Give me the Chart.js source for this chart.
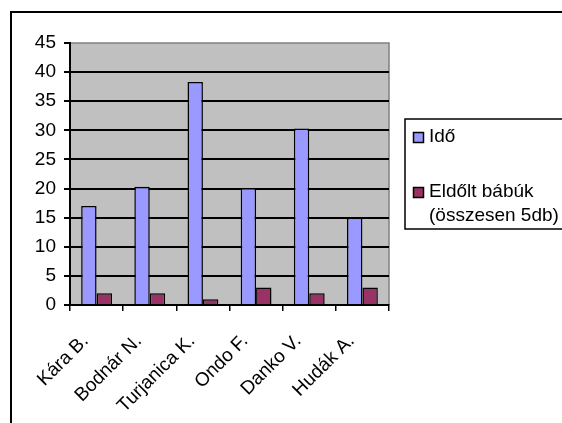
<!DOCTYPE html>
<html>
<head>
<meta charset="utf-8">
<script src="https://cdn.jsdelivr.net/npm/chart.js@4"></script>
<style>
  body { margin: 0; background: #fff; }
  #wrap { width: 562px; height: 423px; }
</style>
</head>
<body>
<div id="wrap"><canvas id="myChart" width="562" height="423"></canvas></div>
<script>
// adatok
var names = ["Kára B.", "Bodnár N.", "Turjanica K.", "Ondo F.", "Danko V.", "Hudák A."];
var ido = [17, 20.3, 38.3, 20.1, 30.3, 15];
var eldolt = [2, 2, 1, 3, 2, 3];
var seriesNames = ["Idő", "Eldőlt bábúk\n(összesen 5db)"];
var yTicks = [0, 5, 10, 15, 20, 25, 30, 35, 40, 45];

var FONT = "'Liberation Sans', Arial, sans-serif";
var FSIZE = 19;

// hatter, keret es jelmagyarazat rajzolasa
var excelLook = {
  id: "excelLook",
  beforeDraw: function (chart) {
    var c = chart.ctx, a = chart.chartArea;
    c.save();
    c.fillStyle = "#fff";
    c.fillRect(0, 0, chart.width, chart.height);
    c.strokeStyle = "#000";
    c.lineWidth = 2;
    c.strokeRect(11, 12, 700, 600);
    c.fillStyle = "#c0c0c0";
    c.fillRect(a.left, a.top, a.right - a.left, a.bottom - a.top);
    c.strokeStyle = "#808080";
    c.lineWidth = 1.5;
    c.beginPath();
    c.moveTo(a.left, a.top);
    c.lineTo(a.right, a.top);
    c.lineTo(a.right, a.bottom);
    c.stroke();
    c.restore();
  },
  afterDraw: function (chart) {
    var c = chart.ctx;
    c.save();
    c.strokeStyle = "#000";
    c.lineWidth = 1.5;
    c.strokeRect(405, 119, 300, 110);
    c.font = FSIZE + "px " + FONT;
    c.textBaseline = "middle";
    c.fillStyle = "#000";
    var ys = [137, 192];
    chart.data.datasets.forEach(function (ds, i) {
      var y = ys[i];
      c.fillStyle = ds.backgroundColor;
      c.fillRect(413, y - 5, 10, 10);
      c.strokeStyle = "#000";
      c.lineWidth = 1.5;
      c.strokeRect(413.5, y - 4.5, 10, 10);
      c.fillStyle = "#000";
      ds.label.split("\n").forEach(function (line, j) {
        c.fillText(line, 429, y + j * 24);
      });
    });
    c.restore();
  }
};

var ctx = document.getElementById("myChart").getContext("2d");
var myChart = new Chart(ctx, {
  type: "bar",
  data: {
    labels: names,
    datasets: [
      {
        label: seriesNames[0],
        data: ido,
        backgroundColor: "#9999ff",
        borderColor: "#000",
        borderWidth: 1.5,
        categoryPercentage: 0.58,
        barPercentage: 1.0
      },
      {
        label: seriesNames[1],
        data: eldolt,
        backgroundColor: "#993366",
        borderColor: "#000",
        borderWidth: 1.5,
        categoryPercentage: 0.58,
        barPercentage: 1.0
      }
    ]
  },
  options: {
    responsive: false,
    animation: false,
    layout: { padding: { top: 43, right: 173, bottom: 0, left: 0 } },
    plugins: {
      legend: { display: false },
      tooltip: { enabled: false }
    },
    scales: {
      x: {
        grid: { drawOnChartArea: false, color: "#000", lineWidth: 1.5, tickLength: 6, offset: true },
        border: { color: "#000", width: 2 },
        ticks: {
          color: "#000",
          font: { family: FONT, size: FSIZE },
          minRotation: 45,
          maxRotation: 45,
          autoSkip: false,
          padding: 19,
          labelOffset: -11
        },
        afterFit: function (s) { s.height = 118; }
      },
      y: {
        min: 0,
        max: 45,
        afterBuildTicks: function (s) {
          s.ticks = yTicks.map(function (v) { return { value: v }; });
        },
        grid: {
          color: function (c) { return c.tick && c.tick.value === 45 ? "rgba(0,0,0,0)" : "#000"; },
          tickColor: "#000",
          lineWidth: 2,
          tickLength: 6
        },
        border: { color: "#000", width: 2 },
        ticks: {
          color: "#000",
          font: { family: FONT, size: FSIZE },
          padding: 8
        },
        afterFit: function (s) { s.width = 70; }
      }
    }
  },
  plugins: [excelLook]
});
</script>
</body>
</html>
